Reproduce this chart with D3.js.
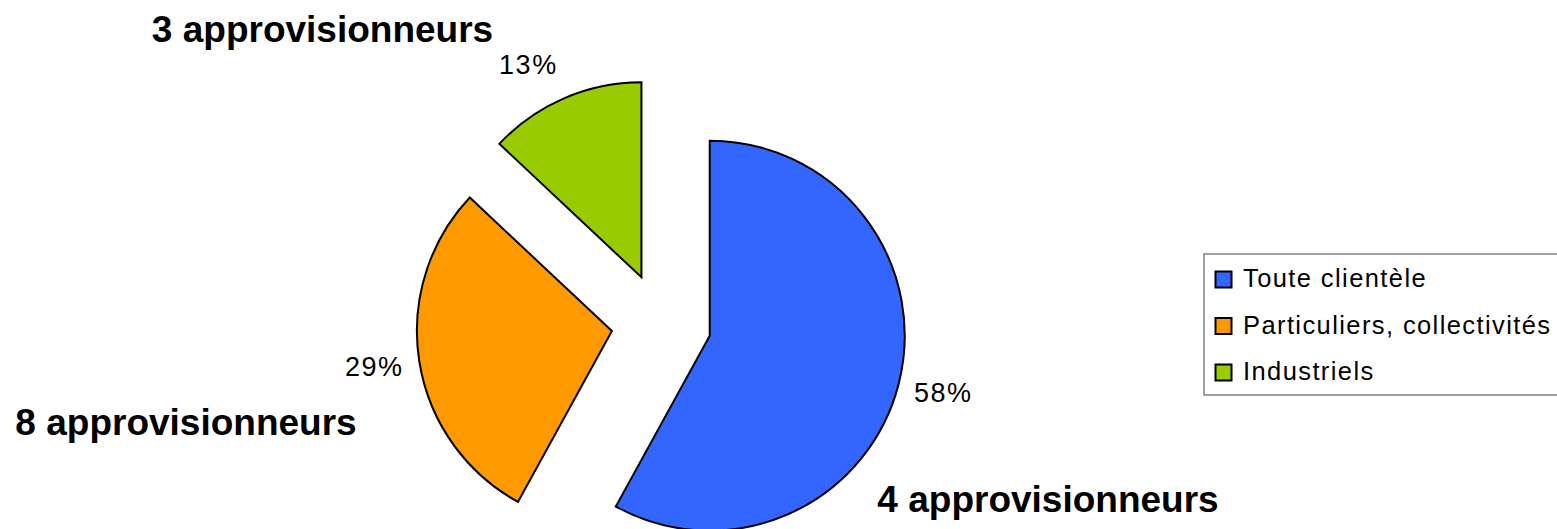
<!DOCTYPE html>
<html>
<head>
<meta charset="utf-8">
<script src="https://cdn.jsdelivr.net/npm/d3@7"></script>
<style>
    html, body { margin: 0; padding: 0; background: #fff; }
    svg { display: block; }
    text { font-family: Arial, "Liberation Sans", sans-serif; fill: #000; }
    .slice path { stroke: #000; stroke-width: 2; stroke-linejoin: miter; }
    .pct { font-size: 27px; letter-spacing: 1.5px; }
    .suppliers { font-size: 37px; font-weight: bold; }
    .legend text { font-size: 25.5px; letter-spacing: 1.4px; }
</style>
</head>
<body>
<script>
// data
var categories = ["Toute clientèle", "Particuliers, collectivités", "Industriels"];
var shares = [58, 29, 13];
var supplierCounts = [4, 8, 3];
var colors = ["#3366FF", "#FF9900", "#99CC00"];

var width = 1557,
    height = 529;

// layout
var pieCenter = [661.3, 323.2],
    radius = 195,
    explode = 50,
    labelPad = 16;

// free text boxes placed by hand in the original sheet
var supplierBoxes = [
    [1048, 512],
    [186, 435],
    [322.5, 42]
];

var svg = d3.select("body").append("svg")
    .attr("width", width)
    .attr("height", height);

var pie = d3.pie().sort(null).value(function(d) { return d; });
var arcs = pie(shares);

var arc = d3.arc()
    .innerRadius(0)
    .outerRadius(radius);

function midAngle(d) {
    return (d.startAngle + d.endAngle) / 2;
}

function sliceOffset(d) {
    var a = midAngle(d);
    return [Math.sin(a) * explode, -Math.cos(a) * explode];
}

var chart = svg.append("g")
    .attr("transform", "translate(" + pieCenter[0] + "," + pieCenter[1] + ")");

var slices = chart.selectAll(".slice")
    .data(arcs)
    .enter().append("g")
    .attr("class", "slice")
    .attr("transform", function(d) {
        var o = sliceOffset(d);
        return "translate(" + o[0] + "," + o[1] + ")";
    });

slices.append("path")
    .attr("d", arc)
    .attr("fill", function(d, i) { return colors[i]; });

// percentage labels just outside each slice
slices.append("text")
    .attr("class", "pct")
    .attr("dominant-baseline", "central")
    .attr("text-anchor", function(d) {
        return Math.sin(midAngle(d)) < 0 ? "end" : "start";
    })
    .attr("x", function(d) {
        return Math.sin(midAngle(d)) * (radius + labelPad);
    })
    .attr("y", function(d) {
        var a = midAngle(d);
        return -Math.cos(a) * (radius + labelPad) - Math.cos(a) * 20;
    })
    .text(function(d) { return d.data + "%"; });

// supplier annotations
svg.selectAll(".suppliers")
    .data(supplierCounts)
    .enter().append("text")
    .attr("class", "suppliers")
    .attr("text-anchor", "middle")
    .attr("x", function(d, i) { return supplierBoxes[i][0]; })
    .attr("y", function(d, i) { return supplierBoxes[i][1]; })
    .text(function(d) { return d + " approvisionneurs"; });

// legend
var legend = svg.append("g")
    .attr("class", "legend")
    .attr("transform", "translate(1204,254)");

legend.append("rect")
    .attr("width", 370)
    .attr("height", 141)
    .attr("fill", "#fff")
    .attr("stroke", "#808080")
    .attr("stroke-width", 1.5);

var rowY = d3.scalePoint()
    .domain(categories)
    .range([33, 126]);

var items = legend.selectAll(".item")
    .data(categories)
    .enter().append("g")
    .attr("class", "item")
    .attr("transform", function(d) { return "translate(0," + rowY(d) + ")"; });

items.append("rect")
    .attr("x", 11.5)
    .attr("y", -15.5)
    .attr("width", 16)
    .attr("height", 16)
    .attr("fill", function(d, i) { return colors[i]; })
    .attr("stroke", "#000")
    .attr("stroke-width", 2);

items.append("text")
    .attr("x", 39)
    .attr("y", 0)
    .text(function(d) { return d; });
</script>
</body>
</html>
